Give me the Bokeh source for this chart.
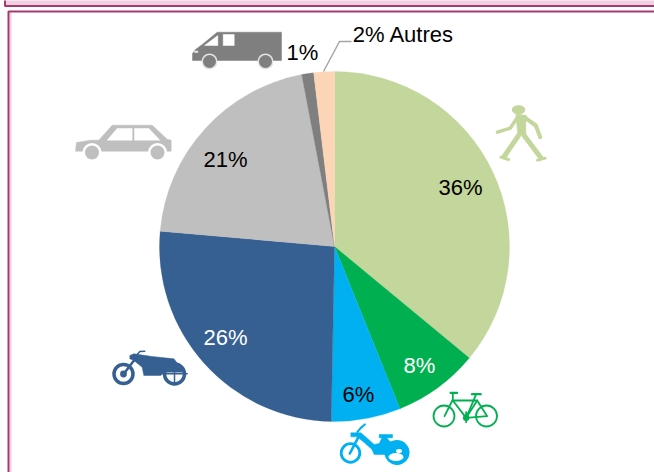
from math import pi
import numpy as np
from bokeh.plotting import figure
from bokeh.models import Range1d
from bokeh.core.properties import value
from bokeh.embed import file_html
from bokeh.resources import INLINE

# ---- data ----
categories = ["Piétons", "Vélos", "Cyclos", "Motos", "Voitures", "Utilitaires", "Autres"]
shares = [36.0, 7.9, 6.4, 26.1, 20.6, 1.1, 1.9]
colors = ["#C3D69B", "#00B050", "#00B0F0", "#376092", "#BFBFBF", "#7F7F7F", "#FBD5B5"]
labels = ["36%", "8%", "6%", "26%", "21%", "1%", "2% Autres"]
label_colors = ["black", "white", "black", "white", "black", "black", "black"]
label_x = [460, 419, 358, 225, 225, 302, 403]
label_y = [187, 365, 394, 336.5, 158.5, 52, 34]

W, H = 654, 472
CX, CY, R = 334, 246, 175


def Y(v):
    return H - np.asarray(v, dtype=float)


def fx(origin, pts):
    return [origin + a / 3 for a in pts]


def fy(origin, pts):
    return Y([origin + a / 3 for a in pts])


p = figure(width=W, height=H, x_range=Range1d(0, W), y_range=Range1d(0, H),
           output_backend="svg", toolbar_location=None, min_border=0)
p.axis.visible = False
p.grid.visible = False
p.outline_line_color = None
p.background_fill_color = "white"
p.border_fill_color = "white"
p.styles = {"position": "absolute", "left": "0px", "top": "0px"}

# ---- page frames ----
FR = "#A53A72"
p.quad(left=[4.5], right=[660], top=[H + 5], bottom=Y([5.5]), fill_color="#F2D0E2", line_color=FR, line_width=2)
p.line([10, 10], Y([12, 480]), line_color="#F2D0E2", line_width=2)
p.line([8, 8, 660], Y([480, 11, 11]), line_color=FR, line_width=2)

# ---- pie ----
edges = np.cumsum([0] + shares) / sum(shares) * 2 * pi
starts = pi / 2 - edges[1:]
ends = pi / 2 - edges[:-1]
p.wedge(x=[CX] * len(shares), y=[H - CY] * len(shares), radius=R, start_angle=starts, end_angle=ends,
        fill_color=colors, line_color=colors, line_width=0.3)

# leader line
p.line([323, 339, 351], Y([71, 41, 41]), line_color="#A6A6A6", line_width=1.5)


def poly(xs, ys, c):
    p.patch(xs, ys, fill_color=c, line_color=c, line_width=0.5)


def seg(xs, ys, c, w):
    p.line(xs, ys, line_color=c, line_width=w, line_cap="round", line_join="round")


def disc(x, y, r, c):
    p.circle(x=[x], y=[H - y], radius=r, fill_color=c, line_color=None)


def ring(x, y, r, c, w):
    p.circle(x=[x], y=[H - y], radius=r, fill_color=None, line_color=c, line_width=w)


# ---- van ----
c = "#7F7F7F"
poly([216.7, 281, 281, 192, 192, 195, 203], Y([31.7, 31.7, 60, 60, 53, 49, 43]), c)
poly([204, 217.3, 217.3], Y([45, 35, 45]), "white")
poly([222.7, 233.7, 233.7, 222.7], Y([34, 34, 45, 45]), "white")
poly([194, 197.5, 197.5, 194], Y([50.5, 50.5, 52, 52]), "#E8E8E8")
for wx in (209, 265):
    disc(wx, 61, 8, "#E4E4E4")
    disc(wx, 61, 6.5, c)

# ---- car ----
c = "#BFBFBF"
poly(fx(70, [18, 60, 85, 125, 245, 290, 302, 302, 15]), fy(118, [72, 65, 65, 20, 20, 62, 65, 98, 98]), c)
poly(fx(70, [110, 140, 185, 185]), fy(118, [65, 30, 30, 65]), "white")
poly(fx(70, [192, 235, 268, 192]), fy(118, [30, 30, 65, 65]), "white")
for wx in (91.5, 157):
    disc(wx, 152, 9.5, "white")
    disc(wx, 152, 7, c)

# ---- pedestrian ----
c = "#C3D69B"
p.ellipse(x=[518], y=[H - 109.3], width=13.5, height=9, fill_color=c, line_color=None)
seg(fx(327, [510, 548, 570]), fy(0, [395, 383, 350]), c, 3.5)
seg(fx(327, [590, 625, 638]), fy(0, [350, 375, 410]), c, 4)
poly(fx(327, [565, 597, 595, 595, 570]), fy(0, [340, 345, 370, 410, 395]), c)
seg(fx(327, [580, 530]), fy(0, [395, 468]), c, 5)
seg(fx(327, [590, 640]), fy(0, [405, 472]), c, 5)
seg(fx(327, [520, 543]), fy(0, [470, 477]), c, 3)
seg(fx(327, [630, 653]), fy(0, [479, 473]), c, 3)

# ---- motorbike ----
c = "#376092"
ring(123, 373.5, 9.5, c, 3.5)
disc(123, 373.5, 3.4, c)
ring(174, 373.5, 10, c, 3.5)
seg(fx(90, [132, 100]), fy(330, [88, 130]), c, 2.5)
seg(fx(90, [140, 148, 163]), fy(330, [72, 63, 62]), c, 1.5)
poly(fx(90, [118, 130, 185, 250, 262, 285, 225, 210, 160, 155, 130, 118]),
     fy(330, [75, 70, 78, 85, 100, 125, 125, 135, 135, 110, 90, 85]), c)
seg(fx(90, [225, 290]), fy(330, [130, 130]), c, 1.5)
seg(fx(90, [252, 252]), fy(330, [100, 162]), c, 1.5)

# ---- bicycle ----
c = "#00B050"
ring(443.5, 415.5, 10.5, c, 1.8)
ring(486, 415.5, 10.5, c, 1.8)
seg(fx(425, [75, 95]), fy(385, [22, 22]), c, 2.2)
seg(fx(425, [140, 165]), fy(385, [26, 26]), c, 2.4)
seg(fx(425, [82, 82, 57]), fy(385, [22, 42, 92]), c, 1.8)
seg(fx(425, [82, 155, 122, 82]), fy(385, [45, 45, 97, 45]), c, 1.8)
seg(fx(425, [152, 122, 185, 155]), fy(385, [26, 97, 92, 45]), c, 1.8)
disc(425 + 122 / 3, 385 + 97 / 3, 3.2, c)
seg(fx(425, [122, 122]), fy(385, [80, 110]), c, 1.8)

# ---- moped ----
c = "#00B0F0"
ring(350, 452.5, 9.3, c, 2.8)
seg(fx(332, [78, 52]), fy(418, [55, 105]), c, 2.6)
seg(fx(332, [75, 85, 97]), fy(418, [40, 28, 18]), c, 2.2)
disc(396.5, 452, 12.5, c)
poly(fx(332, [55, 85, 105, 125, 140, 150, 160, 175, 175, 125, 118, 95, 78, 78, 55]),
     fy(418, [43, 43, 60, 78, 75, 55, 55, 72, 108, 108, 92, 72, 58, 55, 55]), c)
poly(fx(332, [140, 180, 180, 140]), fy(418, [48, 48, 58, 58]), c)
poly(fx(332, [165, 205, 222, 228, 205]), fy(418, [70, 70, 85, 100, 100]), c)
p.ellipse(x=[395.5], y=[H - 456.5], width=15, height=8, fill_color="white", line_color=None)
p.ellipse(x=[398.5], y=[H - 450.5], width=6, height=4, fill_color="white", line_color=None)

# ---- texts ----
p.text(x=label_x, y=Y(label_y), text=labels, text_color=label_colors, text_align="center",
       text_baseline="middle", text_font=value("Liberation Sans"), text_font_size="22px")

open("out.html", "w").write(file_html(p, INLINE))
